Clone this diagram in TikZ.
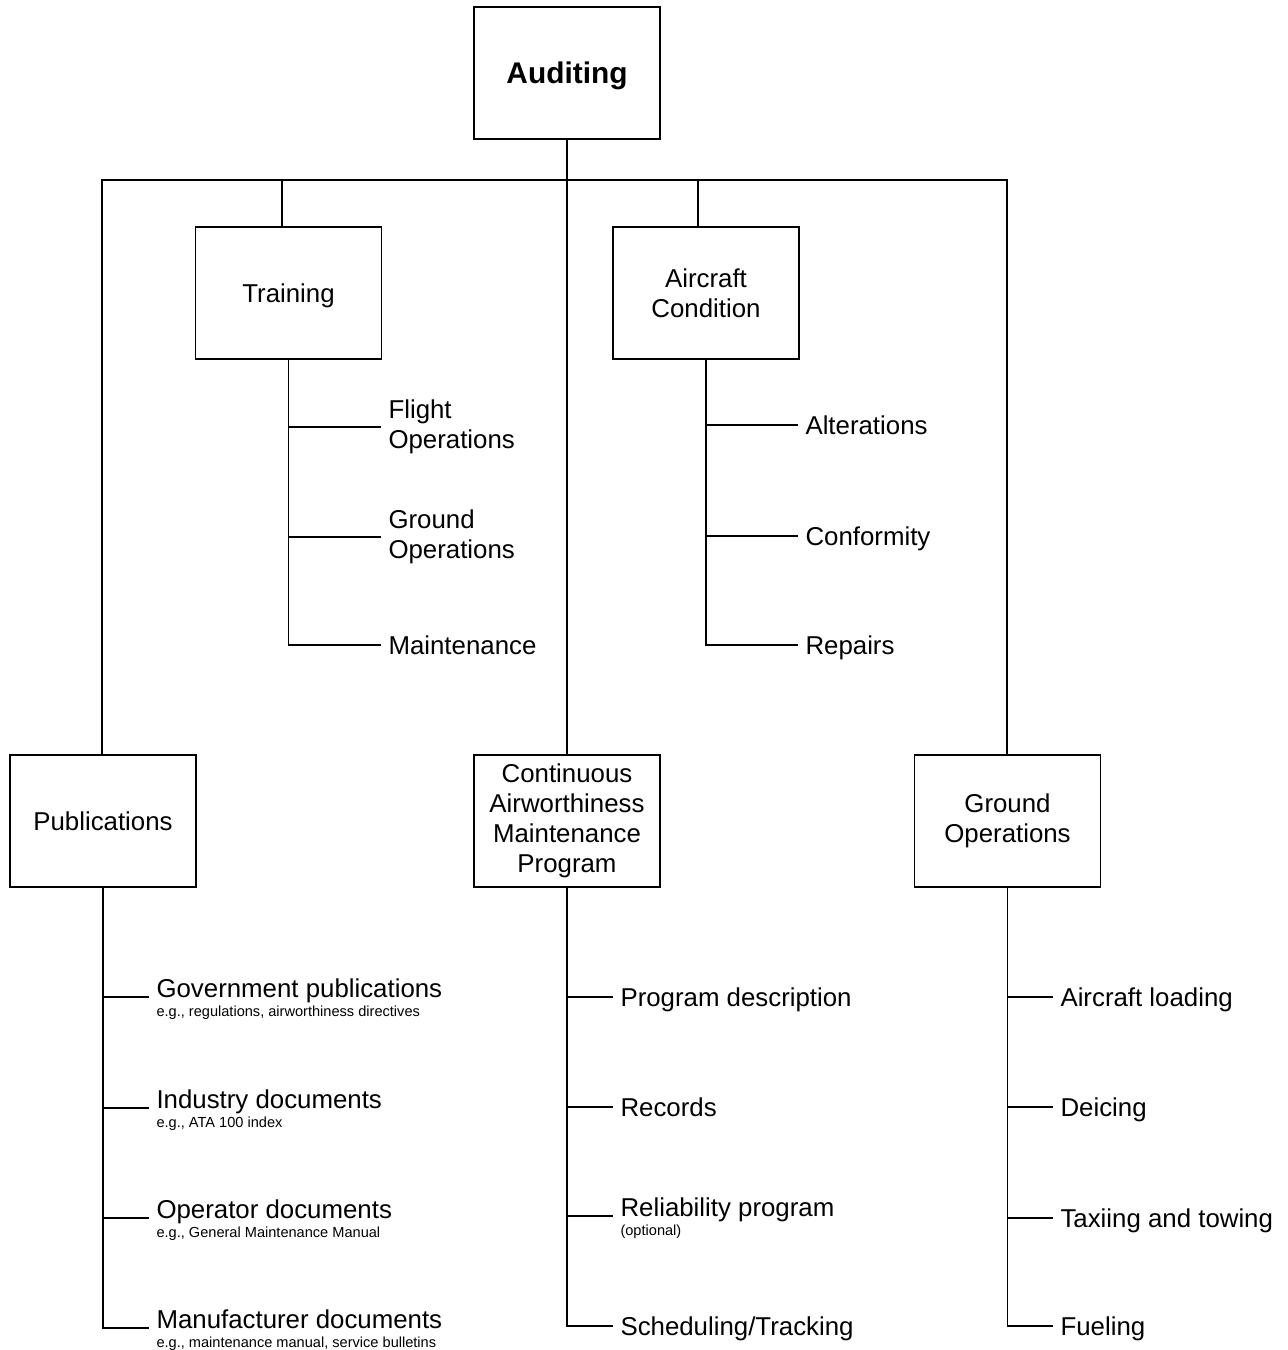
\documentclass[tikz,border=0pt]{standalone}
\usepackage{fontspec}
\setmainfont{Liberation Sans}

\begin{document}
\begin{tikzpicture}[x=0.02cm, y=-0.02cm, line width=0.6pt,
  box/.style={draw, minimum width=3.72cm, minimum height=2.64cm, align=center,
    font=\fontsize{14.7}{17}\selectfont},
  item/.style={anchor=west, inner xsep=0.14cm, text height=10.5pt, text depth=0pt,
    font=\fontsize{14.7}{17}\selectfont},
  twoline/.style={anchor=west, inner xsep=0.14cm, align=left,
    font=\fontsize{14.7}{17}\selectfont},
  head/.style={anchor=base west, inner xsep=0.14cm, font=\fontsize{14.7}{17}\selectfont},
  note/.style={anchor=base west, inner xsep=0.14cm, font=\fontsize{8.3}{10}\selectfont}]

\useasboundingbox (0,0) rectangle (1288,1350);

% boxes
\node[box, text height=12.2pt, text depth=0pt, font=\fontsize{17}{20}\selectfont\bfseries] (aud) at (567,73) {Auditing};
\node[box, text height=10.5pt, text depth=0pt] (trn) at (288.5,293) {Training};
\node[box] (acd) at (706,293) {Aircraft\\Condition};
\node[box] (pub) at (103,821) {Publications};
\node[box] (camp) at (567,821) {Continuous\\Airworthiness\\Maintenance\\Program};
\node[box] (gop) at (1007.5,821) {Ground\\Operations};

\coordinate (busW) at (102,180);
\coordinate (busE) at (1007,180);
\coordinate (tapT) at (282,180);
\coordinate (tapA) at (698,180);

% training
\node[twoline] (flt) at (381,427) {Flight\\Operations};
\node[twoline] (gnd) at (381,537) {Ground\\Operations};
\node[item] (mnt) at (381,645) {Maintenance};

% aircraft condition
\node[item] (alt) at (798,425) {Alterations};
\node[item] (cnf) at (798,536) {Conformity};
\node[item] (rep) at (798,645) {Repairs};

% publications
\node[head] (gov) at (149,997) {Government publications};
\node[note] (govx) at (149,1016) {e.g., regulations, airworthiness directives};
\node[head] (ind) at (149,1108) {Industry documents};
\node[note] (indx) at (149,1127) {e.g., ATA 100 index};
\node[head] (opr) at (149,1218) {Operator documents};
\node[note] (oprx) at (149,1237) {e.g., General Maintenance Manual};
\node[head] (mfr) at (149,1328) {Manufacturer documents};
\node[note] (mfrx) at (149,1347) {e.g., maintenance manual, service bulletins};

% CAMP
\node[item] (prg) at (613,997) {Program description};
\node[item] (rec) at (613,1107) {Records};
\node[head] (rel) at (613,1216) {Reliability program};
\node[note] (relx) at (613,1235) {(optional)};
\node[item] (sch) at (613,1326) {Scheduling/Tracking};

% ground operations
\node[item] (ald) at (1053,997) {Aircraft loading};
\node[item] (dei) at (1053,1107) {Deicing};
\node[item] (tax) at (1053,1218) {Taxiing and towing};
\node[item] (fue) at (1053,1326) {Fueling};

% tree lines
\draw (aud) -- (camp);
\draw (busW |- pub.north) -- (busW) -- (busE) -- (busE |- gop.north);
\draw (tapT) -- (tapT |- trn.north);
\draw (tapA) -- (tapA |- acd.north);

\draw (trn.south) |- (mnt.west);
\foreach \n in {flt,gnd} \draw (trn.south |- \n.west) -- (\n.west);
\draw (acd.south) |- (rep.west);
\foreach \n in {alt,cnf} \draw (acd.south |- \n.west) -- (\n.west);

\draw (pub.south) |- (mfr.base west);
\foreach \n in {gov,ind,opr} \draw (pub.south |- \n.base west) -- (\n.base west);
\draw (camp.south) |- (sch.west);
\foreach \n in {prg,rec} \draw (camp.south |- \n.west) -- (\n.west);
\draw (camp.south |- rel.base west) -- (rel.base west);
\draw (gop.south) |- (fue.west);
\foreach \n in {ald,dei,tax} \draw (gop.south |- \n.west) -- (\n.west);
\end{tikzpicture}
\end{document}
